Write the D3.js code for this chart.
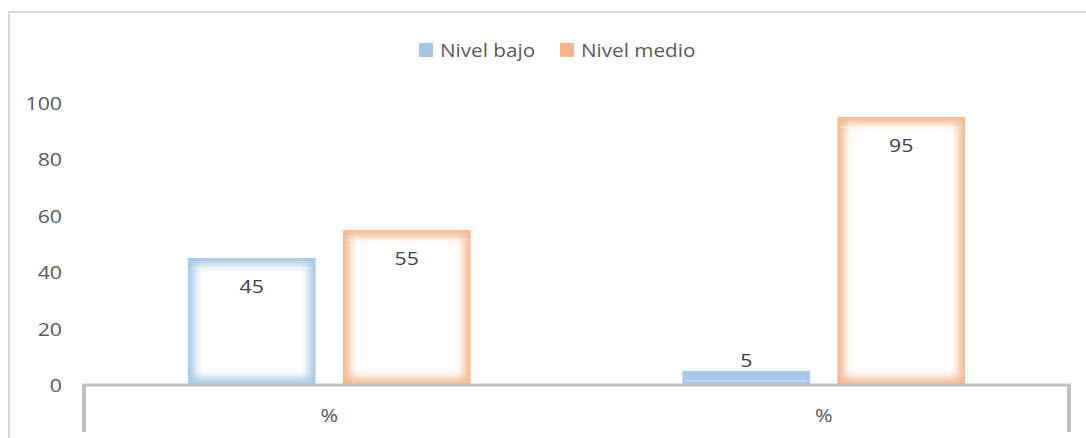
<!DOCTYPE html>
<html>
<head>
<meta charset="utf-8">
<script src="https://cdn.jsdelivr.net/npm/d3@7"></script>
<style>
  html, body { margin: 0; padding: 0; background: #fff; }
  svg { display: block; }
  text { font-family: "Open Sans", "Noto Sans", sans-serif; }
</style>
</head>
<body>
<svg id="chart" width="1086" height="438"></svg>
<script>
// ---- data ----
const categories = ["%", "%"];
const seriesNames = ["Nivel bajo", "Nivel medio"];
const nivelBajo = [45, 5];
const nivelMedio = [55, 95];
const yTicks = [0, 20, 40, 60, 80, 100];
const seriesColors = ["#9DC3E6", "#F4B183"];

const svg = d3.select("#chart");
const W = 1086, H = 438;
const SX = 1.15; // horizontal text stretch, as in the reference

function addText(x, yy, str, opts) {
  return svg.append("text")
    .attr("transform", `translate(${x},${yy}) scale(${SX},1)`)
    .attr("text-anchor", opts.anchor || "start")
    .attr("fill", opts.fill || "#595959")
    .style("font-size", (opts.size || 18.5) + "px")
    .text(str);
}

// outer chart border (top and left visible)
svg.append("path")
  .attr("d", `M9,${H} L9,12 L${W},12`)
  .attr("fill", "none").attr("stroke", "#d9d9d9").attr("stroke-width", 2);

const rows = categories.map((c, i) => ({ idx: i, cat: c, values: [nivelBajo[i], nivelMedio[i]] }));

const x0 = d3.scaleBand().domain(d3.range(categories.length)).range([82, 1071]).padding(0);
const x1 = d3.scaleBand().domain(d3.range(seriesNames.length)).range([0, x0.bandwidth()])
  .paddingInner(0.174).paddingOuter(0.682);
const y = d3.scaleLinear().domain([0, 100]).range([385, 102.7]);

// y axis labels (no axis line)
const yAxis = d3.axisLeft(y).tickValues(yTicks).tickSize(0).tickPadding(0);
const gy = svg.append("g").attr("transform", "translate(62,0)").call(yAxis);
gy.select(".domain").remove();
gy.selectAll(".tick text")
  .attr("fill", "#595959").style("font-size", "18.5px")
  .style("font-family", '"Open Sans", sans-serif')
  .attr("x", null).attr("dy", "0.36em")
  .attr("transform", `scale(${SX},1)`);

const defs = svg.append("defs");
defs.append("filter").attr("id", "soft")
  .attr("x", "-50%").attr("y", "-50%").attr("width", "200%").attr("height", "200%")
  .append("feGaussianBlur").attr("stdDeviation", 4);

// bars
const bars = [];
rows.forEach(r => r.values.forEach((v, s) => bars.push({ r, s, v })));

bars.forEach((b, k) => {
  const bx = x0(b.r.idx) + x1(b.s);
  const bw = x1.bandwidth();
  const by = y(b.v);
  const bh = y(0) - by;
  const cid = "clip" + k;
  defs.append("clipPath").attr("id", cid)
    .append("rect").attr("x", bx).attr("y", by).attr("width", bw).attr("height", bh);
  const g = svg.append("g").attr("clip-path", `url(#${cid})`);
  g.append("rect").attr("x", bx).attr("y", by).attr("width", bw).attr("height", bh)
    .attr("fill", seriesColors[b.s]).attr("fill-opacity", 0.9);
  const inset = 7;
  if (bh > 2 * inset) {
    g.append("rect")
      .attr("x", bx + inset).attr("y", by + inset)
      .attr("width", bw - 2 * inset).attr("height", bh - 2 * inset)
      .attr("fill", "#fff").attr("filter", "url(#soft)");
    g.append("rect").attr("x", bx + 3).attr("y", by + 9).attr("width", bw - 6).attr("height", 2)
      .attr("fill", "#fff").attr("fill-opacity", 0.3);
  } else {
    g.append("rect")
      .attr("x", bx + 6).attr("y", by + 3)
      .attr("width", bw - 12).attr("height", Math.max(bh - 6, 1))
      .attr("fill", "#fff").attr("fill-opacity", 0.3).attr("filter", "url(#soft)");
  }
  const inside = bh > 30;
  addText(bx + bw / 2, inside ? by + 35 : by - 4, b.v, { anchor: "middle", fill: "#404040" });
});

// x axis line and boundary ticks
svg.append("line").attr("x1", 82).attr("x2", 1071).attr("y1", 385).attr("y2", 385)
  .attr("stroke", "#bfbfbf").attr("stroke-width", 3);
[x0.range()[0] + 2, x0.range()[1] - 2].forEach(xx => {
  svg.append("line").attr("x1", xx).attr("x2", xx)
    .attr("y1", 384).attr("y2", 432)
    .attr("stroke", "#bfbfbf").attr("stroke-width", 4);
});
rows.forEach(d => addText(x0(d.idx) + x0.bandwidth() / 2, 422, d.cat, { anchor: "middle" }));

// legend
const legendX = [419, 560];
seriesNames.forEach((n, i) => {
  svg.append("rect").attr("x", legendX[i]).attr("y", 43).attr("width", 14).attr("height", 14)
    .attr("fill", seriesColors[i]).attr("fill-opacity", 0.95);
  addText(legendX[i] + 21, 56.5, n, { size: 18 });
});
</script>
</body>
</html>
